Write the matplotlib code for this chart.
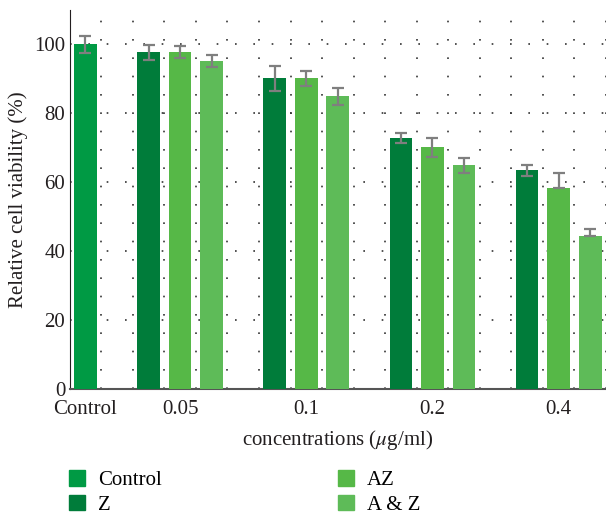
import matplotlib
matplotlib.use('Agg')
import matplotlib.pyplot as plt
from matplotlib.patches import Patch

plt.rcParams['font.family'] = ['Liberation Serif', 'DejaVu Serif']
plt.rcParams['mathtext.fontset'] = 'stix'

categories = ['Control', '0.05', '0.1', '0.2', '0.4']
series = ['Control', 'Z', 'AZ', 'A & Z']
colors = ['#009A44', '#007C3A', '#56B847', '#5EBB58']

control_val = 100.0
control_err = 2.5
z_vals = [97.7, 90.1, 72.8, 63.5]
z_err = [2.2, 3.5, 1.5, 1.6]
az_vals = [97.7, 90.1, 70.1, 58.3]
az_err_lo = [1.8, 2.1, 2.7, 0.0]
az_err_hi = [1.8, 2.1, 2.7, 4.5]
aaz_vals = [95.1, 84.9, 64.9, 44.3]
aaz_err_lo = [1.8, 2.4, 2.1, 0.0]
aaz_err_hi = [1.8, 2.4, 2.1, 2.3]

fig = plt.figure(figsize=(6.06, 5.17), dpi=100)
ax = fig.add_axes([0.1155, 0.247, 0.8845, 0.734])

w = 0.72
ekw = dict(ecolor='#7f7f7f', capsize=4.5, elinewidth=1.6, capthick=1.6)
zx = [2 + 4 * i for i in range(4)]
ax.bar([0], [control_val], w, color=colors[0], yerr=[control_err], zorder=3, error_kw=ekw)
ax.bar(zx, z_vals, w, color=colors[1], yerr=z_err, zorder=3, error_kw=ekw)
ax.bar([x + 1 for x in zx], az_vals, w, color=colors[2],
       yerr=[az_err_lo, az_err_hi], zorder=3, error_kw=ekw)
ax.bar([x + 2 for x in zx], aaz_vals, w, color=colors[3],
       yerr=[aaz_err_lo, aaz_err_hi], zorder=3, error_kw=ekw)

ax.set_xlim(-0.49, 16.39)
ax.set_ylim(0, 110)
ax.set_yticks([0, 20, 40, 60, 80, 100])
ax.set_xticks([0, 3, 7, 11, 15])
ax.set_xticklabels(categories)
ax.set_xticks([i + 0.5 for i in range(17)], minor=True)
ax.tick_params(axis='both', which='both', length=0, labelsize=15, colors='#231f20')
ax.tick_params(axis='x', pad=8)

ax.grid(axis='y', which='major', color='#333333', linestyle=(0, (1, 10)), linewidth=1.2)
ax.grid(axis='x', which='minor', color='#333333', linestyle=(0, (1, 10)), linewidth=1.2)
ax.grid(axis='x', which='major', visible=False)

for s in ['top', 'right']:
    ax.spines[s].set_visible(False)
ax.spines['left'].set_color('#231f20')
ax.spines['bottom'].set_color('#555555')
ax.spines['bottom'].set_linewidth(1.5)

ax.set_ylabel('Relative cell viability (%)', fontsize=15, color='#231f20')
ax.set_xlabel(r'concentrations ($\mu$g/ml)', fontsize=15, color='#231f20', labelpad=6)

handles = [Patch(color=c, label=s) for c, s in zip(colors, series)]
fig.legend(handles=handles, loc='upper left', bbox_to_anchor=(69 / 606, 1 - 470 / 517),
           ncol=2, frameon=False, fontsize=15, handlelength=0.77, handleheight=0.77,
           columnspacing=8.45, labelspacing=0.22, handletextpad=0.63,
           borderpad=0, borderaxespad=0)

fig.savefig('out.png', dpi=100)
plt.close(fig)
